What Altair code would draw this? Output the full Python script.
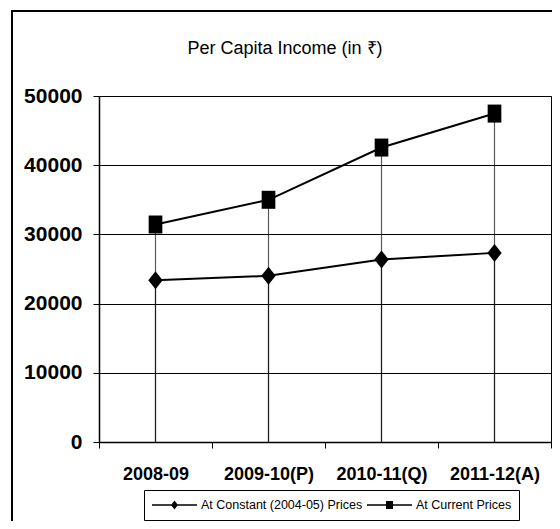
import altair as alt
import pandas as pd

years = ["2008-09", "2009-10(P)", "2010-11(Q)", "2011-12(A)"]
constant_prices = [23390, 24010, 26380, 27330]
current_prices = [31430, 35000, 42550, 47460]
series_names = ["At Constant (2004-05) Prices", "At Current Prices"]
y_ticks = [0, 10000, 20000, 30000, 40000, 50000]

rows = []
for s, vals in zip(series_names, [constant_prices, current_prices]):
    for yr, v in zip(years, vals):
        rows.append({"year": yr, "series": s, "value": v})
df = pd.DataFrame(rows)

NARROW = "Liberation Sans Narrow, Arial Narrow, Liberation Sans, Arial, sans-serif"
BOLD = "Liberation Sans, Arial, sans-serif"

DIAMOND = "M0,-1L0.8,0L0,1L-0.8,0Z"
RECT = "M-0.76,-1H0.76V1H-0.76Z"
# legend symbols (unit = 22.5px): thin bar as the line, small marker in the middle
LEG_DIAMOND = "M-1,-0.036H1V0.036H-1ZM0,-0.2L0.155,0L0,0.2L-0.155,0Z"
LEG_RECT = "M-1,-0.036H1V0.036H-1ZM-0.155,-0.18H0.155V0.18H-0.155Z"

x_enc = alt.X(
    "year:N", sort=years,
    scale=alt.Scale(type="band", paddingInner=0, paddingOuter=0),
    axis=alt.Axis(title=None, labelFont=BOLD, labelFontWeight="bold", labelFontSize=18,
                  labelColor="black", labelPadding=17, tickBand="extent", tickSize=6,
                  tickColor="black", domainColor="black", domainWidth=1.5, grid=False,
                  labelAngle=0),
)
y_enc = alt.Y(
    "value:Q", scale=alt.Scale(domain=[0, 50000], nice=False, zero=True),
    axis=alt.Axis(title=None, values=y_ticks, format="d", grid=True, gridColor="black",
                  gridWidth=1, gridOpacity=1, labelFont=BOLD, labelFontWeight="bold",
                  labelFontSize=21, labelColor="black", labelPadding=11, tickSize=6,
                  tickColor="black", domainColor="black", domainWidth=1.5),
)

base = alt.Chart(df)

rules = base.mark_rule(color="black", opacity=0.65, strokeWidth=1.2).encode(
    x=x_enc, y=y_enc, y2=alt.datum(0)
)
lines = base.mark_line(color="black", strokeWidth=2).encode(
    x=x_enc, y=y_enc, detail="series:N"
)
points = base.mark_point(filled=True, color="black", size=324, opacity=1).encode(
    x=x_enc, y=y_enc,
    shape=alt.Shape("series:N", scale=alt.Scale(domain=series_names, range=[DIAMOND, RECT]),
                    legend=None),
)
legend_layer = base.mark_point(filled=True, color="black", size=2025, opacity=1).encode(
    x=x_enc, y=y_enc,
    shape=alt.Shape("series:N",
                    scale=alt.Scale(domain=series_names, range=[LEG_DIAMOND, LEG_RECT]),
                    legend=alt.Legend(title=None, orient="none", legendX=45, legendY=394,
                                      direction="horizontal", padding=7, strokeColor="black",
                                      labelFont=NARROW, labelFontSize=12.5, labelColor="black",
                                      labelLimit=400, columnPadding=3, labelOffset=3,
                                      symbolSize=2025, clipHeight=16,
                                      symbolFillColor="black")),
).transform_filter("datum.value < 0")

frame_data = alt.Data(values=[{"f": 1}])
frame_left = alt.Chart(frame_data).mark_rect(color="black", clip=False).encode(
    x=alt.value(-88), x2=alt.value(-86), y=alt.value(-86), y2=alt.value(432)
)
frame_top = alt.Chart(frame_data).mark_rect(color="black", clip=False).encode(
    x=alt.value(-88), x2=alt.value(460), y=alt.value(-86), y2=alt.value(-84)
)

chart = alt.layer(rules, lines, points, legend_layer, frame_left, frame_top).resolve_scale(
    shape="independent"
).properties(
    width=452, height=346,
    autosize=alt.AutoSizeParams(type="none"),
    padding={"left": 91, "top": 88, "right": 1, "bottom": 79},
    title=alt.Title("Per Capita Income (in ₹)", font=NARROW, fontSize=18, fontWeight="normal",
                    color="black", anchor="middle", frame="group", dx=-40, offset=-62,
                    baseline="alphabetic"),
    background="white",
).configure_view(stroke="black", strokeWidth=1)

chart.save("out.html", embed_options={"renderer": "svg", "actions": False})
